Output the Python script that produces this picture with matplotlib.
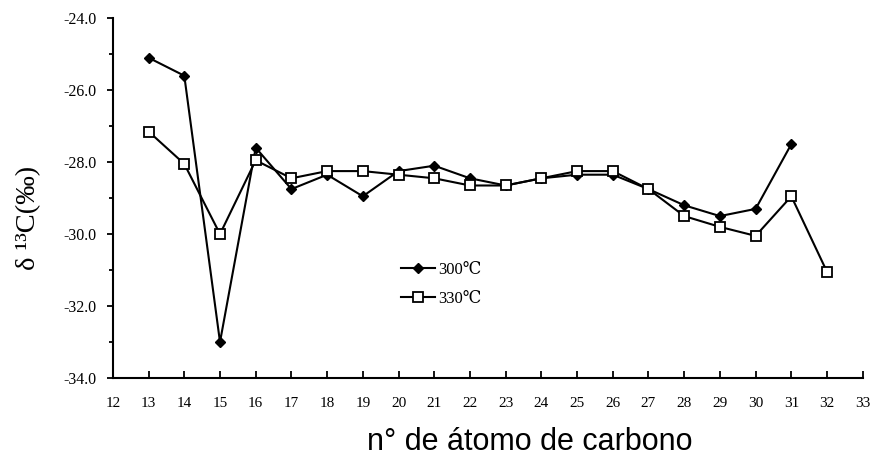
import matplotlib
matplotlib.use("Agg")
import matplotlib.pyplot as plt
from matplotlib.ticker import MultipleLocator, FormatStrFormatter

carbon_300 = [13, 14, 15, 16, 17, 18, 19, 20, 21, 22, 23, 24, 25, 26, 27, 28, 29, 30, 31]
d13c_300 = [-25.1, -25.6, -33.0, -27.6, -28.75, -28.35, -28.95, -28.25, -28.1, -28.45,
            -28.65, -28.45, -28.35, -28.35, -28.75, -29.2, -29.5, -29.3, -27.5]
carbon_330 = [13, 14, 15, 16, 17, 18, 19, 20, 21, 22, 23, 24, 25, 26, 27, 28, 29, 30, 31, 32]
d13c_330 = [-27.15, -28.05, -30.0, -27.95, -28.45, -28.25, -28.25, -28.35, -28.45, -28.65,
            -28.65, -28.45, -28.25, -28.25, -28.75, -29.5, -29.8, -30.05, -28.95, -31.05]
label_300 = "300℃"
label_330 = "330℃"
xlabel = "n° de átomo de carbono"
ylabel = "δ ¹³C(‰)"

serif = ["Liberation Serif", "DejaVu Serif"]

fig = plt.figure(figsize=(8.75, 4.65), dpi=100)
ax = fig.add_axes([0.129, 0.187, 0.857, 0.774])

ax.plot(carbon_300, d13c_300, color="black", lw=1.5, marker="D", ms=5.5,
        mfc="black", mec="black", label=label_300, zorder=3)
ax.plot(carbon_330, d13c_330, color="black", lw=1.5, marker="s", ms=7,
        mfc="white", mec="black", mew=1.3, label=label_330, zorder=4)

ax.set_xlim(12, 33)
ax.set_ylim(-34, -24)
ax.xaxis.set_major_locator(MultipleLocator(1))
ax.yaxis.set_major_locator(MultipleLocator(2))
ax.yaxis.set_minor_locator(MultipleLocator(1))
ax.yaxis.set_major_formatter(FormatStrFormatter("%.1f"))

for s in ["top", "right"]:
    ax.spines[s].set_visible(False)
for s in ["left", "bottom"]:
    ax.spines[s].set_linewidth(1.5)

ax.tick_params(axis="x", direction="in", length=5, width=1.3, pad=14)
ax.tick_params(axis="y", which="major", direction="out", length=4, width=1.3, pad=8)
ax.tick_params(axis="y", which="minor", direction="out", length=3, width=1.3)
for lab in ax.get_xticklabels():
    lab.set_fontfamily(serif)
    lab.set_fontsize(11)
for lab in ax.get_yticklabels():
    lab.set_fontfamily(serif)
    lab.set_fontsize(11.5)

fig.text(0.033, 0.531, ylabel, fontsize=20.5, family=serif, rotation=90,
         ha="center", va="center")
fig.text(0.605, 0.050, xlabel, fontsize=22, family=["Liberation Sans", "DejaVu Sans"],
         ha="center", va="center")

leg = ax.legend(loc="upper left", bbox_to_anchor=(0.376, 0.342), frameon=False,
                handlelength=2.0, handletextpad=0.2, labelspacing=0.8,
                borderaxespad=0.0, prop={"family": serif, "size": 12})

fig.savefig("out.png", dpi=100)
